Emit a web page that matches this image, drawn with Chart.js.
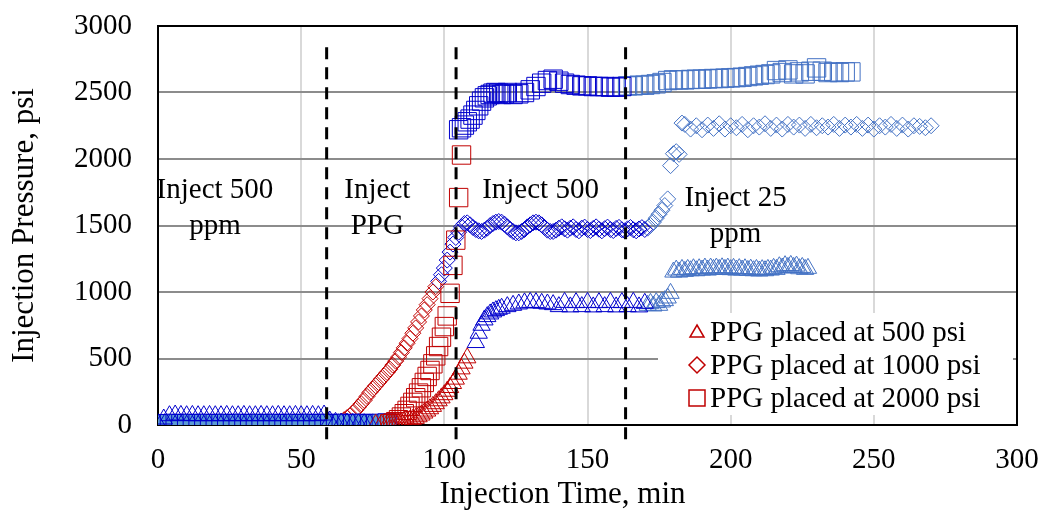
<!DOCTYPE html>
<html>
<head>
<meta charset="utf-8">
<title>Injection pressure</title>
<script src="https://cdn.jsdelivr.net/npm/chart.js@4.4.1/dist/chart.umd.min.js"></script>
<style>
  html, body { margin: 0; padding: 0; background: #fff; }
  #wrap { width: 1042px; height: 512px; }
</style>
</head>
<body>
<div id="wrap"><canvas id="pressureChart" width="1042" height="512"></canvas></div>
<script>
// Data: time in min, pressure in psi

// PPG placed at 500 psi (triangles)
const triBaseT = [0,2,4,6,8,10,12,14,16,18,20,22,24,26,28,30,32,34,36,38,40,42,44,46,48,50,52,54,56,58,60,62,64,66,68,70,72,74];
const triBaseP = [10,45,70,75,72,70,72,70,70,72,70,70,72,70,70,72,70,70,72,70,70,72,70,70,72,70,70,72,70,75,30,20,15,15,12,10,10,8];
const triGelT = [76,78,80,81,82,83,84,85,86,87,88,89,90,91,92,93,94,95,96,97,98,99,100,101,102,103,104,105,106,107,108];
const triGelP = [5,5,5,8,10,12,15,20,25,30,36,43,50,62,75,90,105,122,140,160,182,204,228,254,282,312,345,382,422,465,505];
const triPostT = [111,112,113,114,115,116,117,118,119,120,122,124,126,128,130,132,134,136,138,140,142,144,146,148,150,152,154,156,158,160,162,164,166,168,170];
const triPostP = [620,690,750,790,815,835,850,860,870,878,890,900,910,918,922,920,915,910,905,890,922,888,920,890,922,888,920,890,922,888,920,890,922,888,915];
const tri25T = [171,172,173,174,175,176,177,178,179,180,181,182,183,184,185,186,187,188,189,190,191,192,193,194,195,196,197,198,199,200,201,202,203,204,205,206,207,208,209,210,211,212,213,214,215,216,217,218,219,220,221,222,223,224,225,226,227];
const tri25P = [900,915,895,920,900,925,935,955,990,1150,1165,1150,1170,1155,1170,1160,1175,1160,1175,1165,1180,1165,1180,1170,1180,1170,1182,1170,1180,1168,1178,1165,1176,1165,1175,1162,1172,1160,1170,1158,1168,1160,1170,1165,1178,1170,1190,1180,1198,1185,1200,1185,1195,1175,1185,1170,1178];

// PPG placed at 1000 psi (diamonds)
const diaBaseT = [0,2,4,6,8,10,12,14,16,18,20,22,24,26,28,30,32,34,36,38,40,42,44,46,48,50,52,54,56,58,60];
const diaBaseP = [5,15,20,20,22,20,20,22,20,20,22,20,20,22,20,20,22,20,20,22,20,20,22,20,20,22,20,20,22,20,20];
const diaGelT = [61,62,63,64,65,66,67,68,69,70,71,72,73,74,75,76,77,78,79,80,81,82,83,84,85,86,87,88,89,90,91,92,93,94,95,96,97];
const diaGelP = [10,15,20,30,40,55,70,90,110,135,160,185,215,245,270,295,320,345,370,395,420,450,480,510,545,580,615,650,690,730,775,820,865,905,950,1000,1040];
const diaPostT = [98,99,100,101,102,103,104,105,106,107,108,109,110,111,112,113,114,115,116,117,118,119,120,121,122,123,124,125,126,127,128,129,130,131,132,133,134,135,136,137,138,139,140,141,142,143,144,145,146,147,148,149,150,151,152,153,154,155,156,157,158,159,160,161,162,163,164,165,166,167,168,169,170];
const diaPostP = [1080,1130,1180,1240,1300,1360,1410,1450,1490,1515,1520,1505,1485,1470,1460,1455,1465,1480,1500,1515,1525,1530,1525,1510,1490,1470,1455,1445,1445,1455,1470,1490,1505,1520,1525,1520,1505,1485,1465,1455,1455,1465,1480,1490,1475,1465,1480,1490,1470,1460,1480,1488,1470,1462,1478,1490,1472,1460,1476,1488,1470,1462,1478,1486,1468,1460,1475,1485,1468,1460,1474,1484,1470];
const dia25T = [171,172,173,174,175,176,177,178,179,180,181,182,183,184,186,188,190,192,194,196,198,200,202,204,206,208,210,212,214,216,218,220,222,224,226,228,230,232,234,236,238,240,242,244,246,248,250,252,254,256,258,260,262,264,266,268,270];
const dia25P = [1480,1500,1525,1555,1585,1615,1650,1700,1950,2040,2055,2035,2270,2260,2225,2250,2220,2255,2230,2265,2225,2250,2235,2260,2220,2250,2240,2265,2230,2255,2225,2260,2240,2255,2230,2260,2235,2250,2240,2260,2230,2255,2240,2260,2230,2255,2225,2250,2240,2260,2230,2255,2225,2250,2245,2235,2250];

// PPG placed at 2000 psi (squares)
const sqBaseT = [0,2,4,6,8,10,12,14,16,18,20,22,24,26,28,30,32,34,36,38,40,42,44,46,48,50,52,54,56,58,60,62,64,66,68,70,72,74,76,78,80];
const sqBaseP = [5,10,10,12,10,10,12,10,10,12,10,10,12,10,10,12,10,10,12,10,10,12,10,10,12,10,10,12,10,10,12,10,10,12,10,10,12,10,10,12,15];
const sqGelT = [81,82,83,84,85,86,87,88,89,90,91,92,93,94,95,96,97,98,99,100,101,102,103,104,105,106];
const sqGelP = [10,15,25,40,60,85,110,140,170,205,240,280,320,365,410,460,520,590,660,740,820,990,1200,1390,1710,2030];
const sqPostT = [105,106,107,108,109,110,111,112,113,114,115,116,117,118,119,120,121,122,124,126,128,130,132,134,136,138,140,142,144,146,148,150,152,154,156,158,160,162];
const sqPostP = [2220,2235,2255,2280,2300,2330,2365,2400,2435,2460,2475,2485,2495,2500,2495,2485,2490,2500,2485,2490,2500,2520,2545,2570,2590,2600,2585,2570,2560,2555,2550,2550,2545,2545,2545,2540,2540,2545];
const sq25T = [164,166,168,170,172,174,176,178,180,182,184,186,188,190,192,194,196,198,200,202,204,206,208,210,212,214,216,218,220,222,224,226,228,230,232,234,236,238,240,242];
const sq25P = [2550,2550,2555,2555,2560,2565,2575,2590,2595,2595,2595,2598,2600,2600,2602,2605,2605,2608,2610,2612,2615,2620,2625,2630,2635,2640,2665,2650,2670,2640,2655,2640,2660,2685,2660,2650,2655,2650,2655,2655];

// Times where the injection fluid was switched (dashed lines)
const phaseLines = [58.9, 104.1, 163.3];
const legendLabels = ["PPG placed at 500 psi", "PPG placed at 1000 psi", "PPG placed at 2000 psi"];
const notes = [["Inject 500", "ppm"], ["Inject", "PPG"], ["Inject 500"], ["Inject 25", "ppm"]];

const darkBlue = "#0000CC";
const red = "#C00000";
const lightBlue = "#4472C4";
const serif = "'Liberation Serif', 'Times New Roman', serif";

Chart.defaults.font.family = serif;
Chart.defaults.color = "#000";

const toPoints = (t, p) => t.map((x, i) => ({ x: x, y: p[i] }));

function markers(t, p, style, radius, color, fill) {
  return {
    data: toPoints(t, p),
    showLine: false,
    pointStyle: style,
    pointRadius: radius,
    pointHoverRadius: radius,
    pointBorderWidth: 1,
    pointBorderColor: color,
    pointBackgroundColor: fill || "rgba(0,0,0,0)",
    borderColor: color,
    backgroundColor: fill || "rgba(0,0,0,0)"
  };
}

const lineSets = phaseLines.map(t => ({
  data: [{ x: t, y: 2840 }, { x: t, y: -165 }],
  showLine: true,
  borderColor: "#000",
  borderWidth: 3,
  borderDash: [12, 8],
  pointRadius: 0,
  clip: false
}));

const datasets = [
  ...lineSets,
  markers(triBaseT, triBaseP, "triangle", 10, darkBlue),
  markers(triGelT, triGelP, "triangle", 10, red),
  markers(triPostT, triPostP, "triangle", 10, darkBlue),
  markers(tri25T, tri25P, "triangle", 10, lightBlue),
  markers(sqGelT, sqGelP, "rect", 13, red),
  markers(sqPostT, sqPostP, "rect", 13, darkBlue),
  markers(sq25T, sq25P, "rect", 13, lightBlue),
  markers(sqBaseT, sqBaseP, "rect", 13, darkBlue, "#5B9BD5"),
  markers(diaBaseT, diaBaseP, "rectRot", 8, darkBlue),
  markers(diaGelT, diaGelP, "rectRot", 8, red),
  markers(diaPostT, diaPostP, "rectRot", 8, darkBlue),
  markers(dia25T, dia25P, "rectRot", 8, lightBlue)
];

// frame, notes, x title and the legend box
const extras = {
  id: "extras",
  beforeDatasetsDraw(chart) {
    const { ctx, chartArea: a } = chart;
    ctx.save();
    ctx.strokeStyle = "#000";
    ctx.lineWidth = 2;
    ctx.strokeRect(a.left, a.top, a.right - a.left, a.bottom - a.top);
    ctx.restore();
  },
  afterDatasetsDraw(chart) {
    const { ctx, chartArea: a, scales: { x, y } } = chart;
    ctx.save();
    ctx.fillStyle = "#000";
    ctx.textAlign = "center";
    ctx.textBaseline = "middle";
    ctx.font = "29px " + serif;
    const spots = [[19.9, 1767], [76.6, 1767], [133.6, 1767], [201.7, 1707]];
    notes.forEach((lines, i) => {
      const px = x.getPixelForValue(spots[i][0]);
      const py = y.getPixelForValue(spots[i][1]);
      lines.forEach((s, j) => ctx.fillText(s, px, py + j * 36));
    });

    ctx.font = "31px " + serif;
    ctx.fillText("Injection Time, min", (a.left + a.right) / 2 - 25, 495);

    // legend
    const bx = a.right - 359, by = a.top + 287;
    ctx.fillStyle = "#fff";
    ctx.fillRect(bx, by, 355, 102);
    ctx.strokeStyle = red;
    ctx.lineWidth = 1.5;
    ctx.font = "29px " + serif;
    ctx.textAlign = "left";
    legendLabels.forEach((label, i) => {
      const cx = bx + 39, cy = by + 19 + i * 33;
      ctx.beginPath();
      if (i === 0) {
        ctx.moveTo(cx, cy - 7);
        ctx.lineTo(cx + 7, cy + 5);
        ctx.lineTo(cx - 7, cy + 5);
        ctx.closePath();
      } else if (i === 1) {
        ctx.moveTo(cx, cy - 8);
        ctx.lineTo(cx + 8, cy);
        ctx.lineTo(cx, cy + 8);
        ctx.lineTo(cx - 8, cy);
        ctx.closePath();
      } else {
        ctx.rect(cx - 8, cy - 8, 16, 16);
      }
      ctx.stroke();
      ctx.fillStyle = "#000";
      ctx.fillText(label, cx + 13, cy + 1);
    });
    ctx.restore();
  }
};

new Chart(document.getElementById("pressureChart"), {
  type: "scatter",
  data: { datasets: datasets },
  options: {
    responsive: false,
    animation: false,
    devicePixelRatio: 1,
    layout: { padding: { top: 26, right: 25, left: 0, bottom: 0 } },
    plugins: { legend: { display: false }, tooltip: { enabled: false } },
    scales: {
      x: {
        type: "linear",
        min: 0,
        max: 300,
        ticks: { stepSize: 50, padding: 2, font: { size: 29 }, color: "#000", callback: v => String(v) },
        grid: { color: "#d9d9d9", lineWidth: 2, drawTicks: true, tickLength: 16, tickColor: "rgba(0,0,0,0)" },
        border: { display: false },
        afterFit: s => { s.height = 87; }
      },
      y: {
        min: 0,
        max: 3000,
        ticks: { stepSize: 500, padding: 3, font: { size: 29 }, color: "#000", callback: v => String(v) },
        grid: { color: "#8c8c8c", lineWidth: 2, drawTicks: true, tickLength: 23, tickColor: "rgba(0,0,0,0)" },
        border: { display: false },
        title: {
          display: true,
          text: "Injection Pressure, psi",
          font: { size: 31 },
          color: "#000",
          padding: { top: 6, bottom: 0 }
        },
        afterFit: s => { s.width = 158; }
      }
    }
  },
  plugins: [extras]
});
</script>
</body>
</html>
